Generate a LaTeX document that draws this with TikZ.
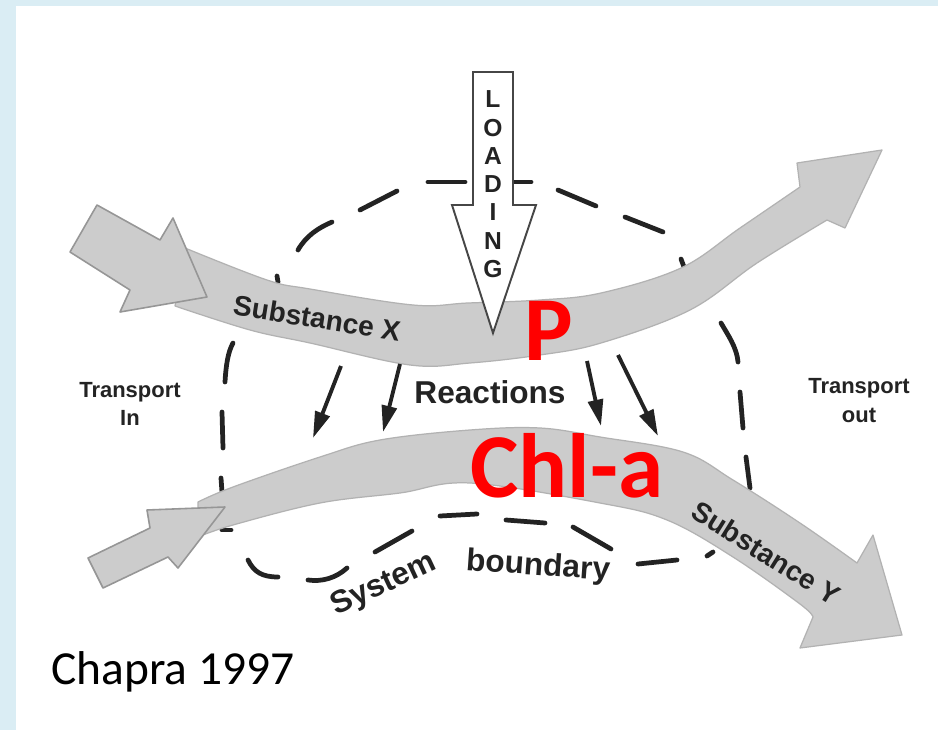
\documentclass[tikz,border=0pt]{standalone}
\usepackage{fontspec}
\newfontfamily\helv{Liberation Sans}
\newfontfamily\calfont{Carlito}
\usetikzlibrary{arrows.meta}
\definecolor{bgblue}{RGB}{218,237,244}
\definecolor{bandgray}{RGB}{204,204,204}
\definecolor{bandedge}{RGB}{178,178,178}
\definecolor{tailedge}{RGB}{150,150,150}
\definecolor{ink}{RGB}{35,35,35}
\definecolor{redtxt}{RGB}{255,0,0}
\begin{document}
\begin{tikzpicture}[x=0.02cm,y=-0.02cm,
  bnd/.style={ink, line width=2.7pt, line cap=round},
  bandshape/.style={fill=bandgray, draw=bandedge, line width=0.7pt, line join=round},
  tailshape/.style={fill=bandgray, draw=tailedge, line width=0.9pt, line join=round},
  loadshape/.style={fill=white, draw=gray!55!black, line width=1.1pt, line join=miter},
  react/.style={ink, line width=2.2pt, -{Triangle[length=15pt,width=8.5pt]}},
  lbl/.style={font=\helv\bfseries, text=ink, inner sep=0pt},
  redlbl/.style={font=\calfont\bfseries\fontsize{52}{56}\selectfont, text=redtxt, inner sep=0pt},
]
\useasboundingbox (0,0) rectangle (938,730);
\fill[bgblue] (0,0) rectangle (938,730);
\fill[white] (16,6) rectangle (938,730);

% system boundary (dashes)
\draw[bnd] (298,250) .. controls (306,236) and (318,228) .. (332,222);
\draw[bnd] (360,210) -- (397,191);
\draw[bnd] (428,182) -- (465,182);
\draw[bnd] (515,182) -- (531,182);
\draw[bnd] (558,190) -- (596,206);
\draw[bnd] (625,217) -- (663,232);
\draw[bnd] (681,259) -- (684,267);
\draw[bnd] (721,323) .. controls (728,335) and (737,348) .. (738,362);
\draw[bnd] (740,392) -- (743,428);
\draw[bnd] (746,457) -- (750,488);
\draw[bnd] (707,556) -- (713,552);
\draw[bnd] (638,564) -- (677,560);
\draw[bnd] (573,527) -- (611,549);
\draw[bnd] (506,520) -- (545,523);
\draw[bnd] (440,516) -- (477,514);
\draw[bnd] (375,552) -- (412,531);
\draw[bnd] (308,580) .. controls (322,582) and (336,578) .. (347,568);
\draw[bnd] (248,560) .. controls (254,572) and (262,577) .. (278,577);
\draw[bnd] (222,530) -- (231,530);
\draw[bnd] (221,478) -- (222,492);
\draw[bnd] (222,412) -- (223,448);
\draw[bnd] (233,343) .. controls (228,352) and (226,365) .. (225,382);
\draw[bnd] (277,276) -- (278,282);

% upper band (substance X)
\path[bandshape] plot[smooth, tension=0.6] coordinates {(185,248) (267,280) (310,289) (413,305) (468,303) (540,300) (601,293) (681,268) (740,228) (800,187)}
  -- (797,163) -- (882,150) -- (845,228)
  -- plot[smooth, tension=0.6] coordinates {(827,220) (757,263) (690,310) (601,343) (540,355) (470,363) (410,365) (310,343) (250,330) (175,306)}
  -- cycle;
% lower band (substance Y)
\path[bandshape] plot[smooth, tension=0.6] coordinates {(198,502) (233,487) (320,457) (380,440) (470,430) (540,428) (600,437) (683,452) (733,480) (800,523) (857,563)}
  -- (873,535) -- (902,635) -- (800,648)
  -- plot[smooth, tension=0.6] coordinates {(813,617) (800,604) (733,557) (667,520) (600,503) (470,483) (400,493) (320,503) (233,525) (198,537)}
  -- cycle;

% transport-in block arrows
\path[tailshape] (97,205) -- (160,240) -- (173,218) -- (207,297) -- (120,312) -- (130,290) -- (70,252) -- cycle;
\path[tailshape] (88,558) -- (150,528) -- (147,510) -- (225,507) -- (178,568) -- (168,557) -- (103,588) -- cycle;

% loading arrow
\path[loadshape] (473,72) -- (513,72) -- (513,205) -- (536,205) -- (493,333) -- (452,205) -- (473,205) -- cycle;
\foreach \ch [count=\i from 0] in {L,O,A,D,I,N,G}
  \node[lbl, font=\helv\bfseries\fontsize{14}{16}\selectfont, anchor=base] (load\i) at (493,108+28.2*\i) {\ch};

% reaction arrows
\coordinate (r1s) at (341,366); \coordinate (r1e) at (313,438);
\coordinate (r2s) at (400,364); \coordinate (r2e) at (383,432);
\coordinate (r3s) at (587,361); \coordinate (r3e) at (601,426);
\coordinate (r4s) at (618,355); \coordinate (r4e) at (658,436);
\draw[react] (r1s) -- (r1e);
\draw[react] (r2s) -- (r2e);
\draw[react] (r3s) -- (r3e);
\draw[react] (r4s) -- (r4e);

% labels
\node[lbl, font=\helv\bfseries\fontsize{16}{18}\selectfont, rotate=-9] (subx) at (317,318) {Substance X};
\node[lbl, font=\helv\bfseries\fontsize{16}{18}\selectfont, rotate=-32] (suby) at (766,553) {Substance Y};
\node[lbl, font=\helv\bfseries\fontsize{18}{20}\selectfont, anchor=base] (reac) at (490,403) {Reactions};
\node[lbl, font=\helv\bfseries\fontsize{12.5}{14}\selectfont, anchor=base] (tin1) at (130,397) {Transport};
\node[lbl, font=\helv\bfseries\fontsize{12.5}{14}\selectfont, anchor=base] (tin2) at (130,425) {In};
\node[lbl, font=\helv\bfseries\fontsize{12.5}{14}\selectfont, anchor=base] (tout1) at (859,393) {Transport};
\node[lbl, font=\helv\bfseries\fontsize{12.5}{14}\selectfont, anchor=base] (tout2) at (859,422) {out};
\node[lbl, font=\helv\bfseries\fontsize{18}{20}\selectfont, rotate=25] (sys) at (384,585) {System};
\node[lbl, font=\helv\bfseries\fontsize{18}{20}\selectfont, rotate=-4] (bdy) at (538,567) {boundary};

\node[redlbl, anchor=base] (pP) at (549,360) {P};
\node[redlbl, anchor=base] (chla) at (567,497) {Chl-a};
\node[inner sep=0pt, anchor=base, font=\calfont\fontsize{27}{30}\selectfont] (cite) at (173,684) {Chapra 1997};
\end{tikzpicture}
\end{document}
